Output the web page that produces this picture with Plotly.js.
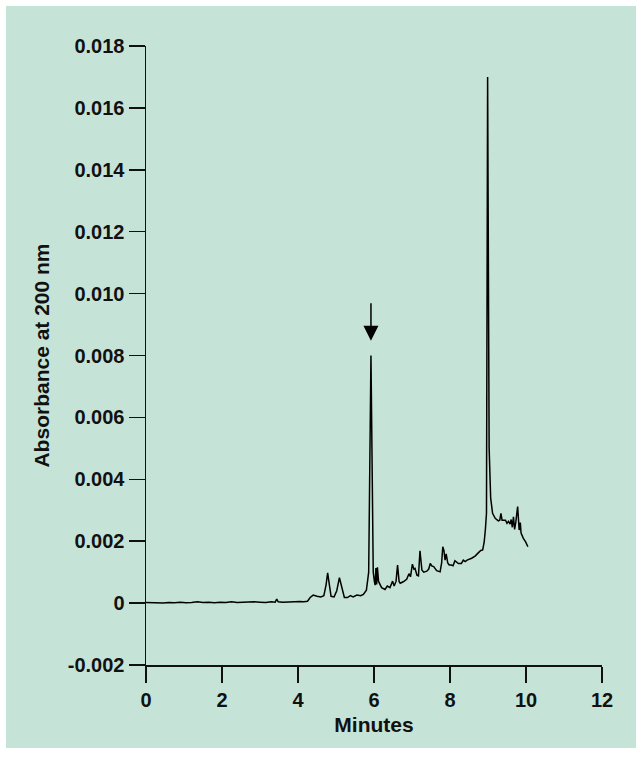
<!DOCTYPE html>
<html>
<head>
<meta charset="utf-8">
<script src="https://cdn.plot.ly/plotly-3.0.1.min.js"></script>
<style>
  html, body { margin: 0; padding: 0; background: #ffffff; }
  #chart { position: absolute; left: 6px; top: 6px; width: 630px; height: 742px; }
</style>
</head>
<body>
<div id="chart"></div>
<script>
// Retention time (minutes)
const minutes = [
  0.00, 0.15, 0.30, 0.45, 0.60, 0.75, 0.90, 1.05, 1.20, 1.35, 1.50, 1.65, 1.80, 1.95,
  2.10, 2.25, 2.40, 2.55, 2.70, 2.85, 3.00, 3.15, 3.30, 3.40, 3.44, 3.48, 3.60, 3.75,
  3.90, 4.05, 4.15, 4.25, 4.32, 4.40, 4.50, 4.60, 4.68, 4.74, 4.78, 4.82, 4.87, 4.95,
  5.02, 5.09, 5.15, 5.22, 5.30, 5.38, 5.45, 5.55, 5.65, 5.72, 5.80, 5.86, 5.89, 5.92,
  5.95, 5.98, 6.01, 6.03, 6.05, 6.07, 6.09, 6.12, 6.20, 6.29, 6.35, 6.42, 6.49, 6.53,
  6.58, 6.62, 6.66, 6.69, 6.77, 6.86, 6.92, 6.96, 7.01, 7.05, 7.08, 7.13, 7.17, 7.21,
  7.26, 7.31, 7.39, 7.44, 7.48, 7.52, 7.57, 7.65, 7.74, 7.78, 7.81, 7.84, 7.87, 7.90,
  7.94, 7.98, 8.04, 8.08, 8.13, 8.22, 8.30, 8.35, 8.40, 8.45, 8.57, 8.66, 8.75, 8.81,
  8.86, 8.90, 8.93, 8.96, 8.99, 9.03, 9.07, 9.12, 9.19, 9.27, 9.31, 9.34, 9.37, 9.46,
  9.50, 9.54, 9.58, 9.61, 9.64, 9.67, 9.70, 9.73, 9.78, 9.80, 9.82, 9.85, 9.87, 9.93,
  9.99, 10.05
];
// Absorbance at 200 nm
const absorbance = [
  0.00002, 0.00001, 0.00002, 0.00000, 0.00002, 0.00001, 0.00003, 0.00001, 0.00002, 0.00004, 0.00002, 0.00003, 0.00001, 0.00003,
  0.00002, 0.00004, 0.00002, 0.00003, 0.00002, 0.00004, 0.00003, 0.00002, 0.00004, 0.00003, 0.00013, 0.00004, 0.00003, 0.00004,
  0.00003, 0.00005, 0.00004, 0.00006, 0.00018, 0.00026, 0.00022, 0.00020, 0.00024, 0.00060, 0.00098, 0.00060, 0.00022, 0.00020,
  0.00040, 0.00082, 0.00050, 0.00018, 0.00018, 0.00024, 0.00020, 0.00026, 0.00024, 0.00028, 0.00042, 0.00100, 0.00450, 0.00800,
  0.00450, 0.00100, 0.00070, 0.00058, 0.00113, 0.00060, 0.00116, 0.00070, 0.00050, 0.00044, 0.00055, 0.00050, 0.00071, 0.00055,
  0.00070, 0.00123, 0.00070, 0.00064, 0.00069, 0.00077, 0.00095, 0.00085, 0.00126, 0.00110, 0.00112, 0.00090, 0.00088, 0.00169,
  0.00107, 0.00100, 0.00103, 0.00110, 0.00128, 0.00120, 0.00118, 0.00105, 0.00101, 0.00130, 0.00182, 0.00170, 0.00139, 0.00159,
  0.00130, 0.00123, 0.00123, 0.00121, 0.00137, 0.00128, 0.00128, 0.00139, 0.00134, 0.00139, 0.00145, 0.00152, 0.00163, 0.00170,
  0.00172, 0.00198, 0.00236, 0.00290, 0.01700, 0.00500, 0.00340, 0.00290, 0.00274, 0.00266, 0.00268, 0.00290, 0.00268, 0.00268,
  0.00258, 0.00264, 0.00255, 0.00270, 0.00245, 0.00279, 0.00238, 0.00260, 0.00312, 0.00270, 0.00236, 0.00260, 0.00226, 0.00209,
  0.00198, 0.00182
];
// Axis ticks
const xTickVals = [0, 2, 4, 6, 8, 10, 12];
const xTickText = ["0", "2", "4", "6", "8", "10", "12"];
const yTickVals = [-0.002, 0, 0.002, 0.004, 0.006, 0.008, 0.010, 0.012, 0.014, 0.016, 0.018];
const yTickText = ["-0.002", "0", "0.002", "0.004", "0.006", "0.008", "0.010", "0.012", "0.014", "0.016", "0.018"];
// Arrow marking the peak of interest
const arrowTime = [5.92];
const arrowTip = [0.00848];
const arrowTail = [0.00974];

const font = "'Liberation Sans', Arial, Helvetica, sans-serif";
const ink = "#111111";

const trace = {
  x: minutes,
  y: absorbance,
  type: "scatter",
  mode: "lines",
  line: { color: "#000000", width: 1.5 },
  hoverinfo: "skip"
};

const layout = {
  width: 630,
  height: 742,
  paper_bgcolor: "#c6e3d8",
  plot_bgcolor: "#c6e3d8",
  margin: { l: 140, r: 34, t: 40, b: 83 },
  showlegend: false,
  hovermode: false,
  font: { family: font, color: ink, size: 20, weight: "bold" },
  xaxis: {
    range: [0, 12],
    tickvals: xTickVals,
    ticktext: xTickText,
    ticks: "outside",
    ticklen: 16,
    tickwidth: 1.5,
    tickcolor: ink,
    showline: true,
    linecolor: ink,
    linewidth: 1.5,
    showgrid: false,
    zeroline: false,
    tickfont: { family: font, size: 20, color: ink, weight: "bold" },
    title: { text: "Minutes", font: { family: font, size: 21, color: ink, weight: "bold" }, standoff: 8 }
  },
  yaxis: {
    range: [-0.002, 0.018],
    tickvals: yTickVals,
    ticktext: yTickText,
    ticks: "outside",
    ticklen: 16,
    tickwidth: 1.5,
    tickcolor: ink,
    showline: true,
    linecolor: ink,
    linewidth: 1.5,
    showgrid: false,
    zeroline: false,
    tickfont: { family: font, size: 20, color: ink, weight: "bold" },
    title: { text: "Absorbance at 200 nm", font: { family: font, size: 21, color: ink, weight: "bold" }, standoff: 12 }
  },
  annotations: [{
    x: arrowTime[0], y: arrowTip[0],
    ax: arrowTime[0], ay: arrowTail[0],
    xref: "x", yref: "y", axref: "x", ayref: "y",
    text: "",
    showarrow: true,
    arrowhead: 2,
    arrowsize: 2,
    arrowwidth: 1.5,
    arrowcolor: "#000000"
  }]
};

Plotly.newPlot("chart", [trace], layout, { displayModeBar: false, staticPlot: true });
</script>
</body>
</html>
